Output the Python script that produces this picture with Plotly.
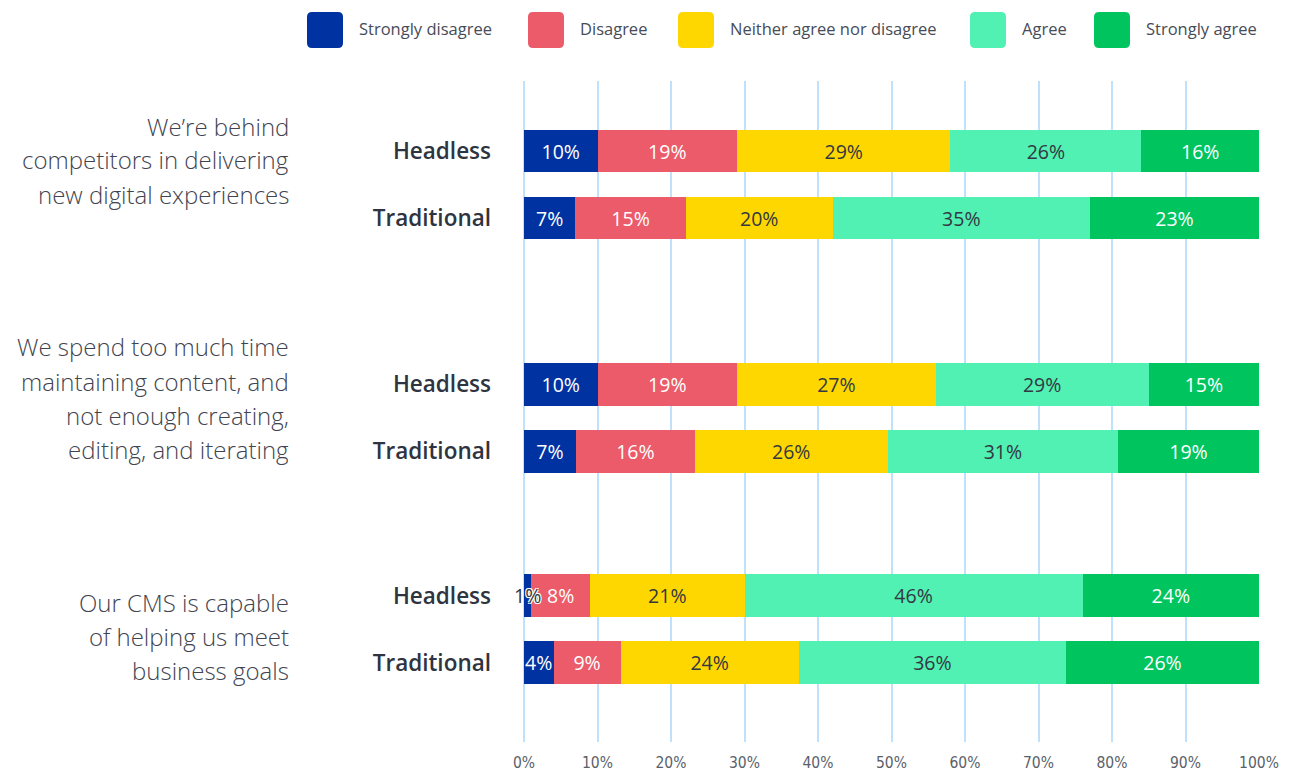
import plotly.graph_objects as go

# ---- data -----------------------------------------------------------------
STATEMENTS = [
    ["We\u2019re behind", "competitors in delivering", "new digital experiences"],
    ["We spend too much time", "maintaining content, and", "not enough creating,", "editing, and iterating"],
    ["Our CMS is capable", "of helping us meet", "business goals"],
]
CMS_TYPES = ["Headless", "Traditional"]
RESPONSES = ["Strongly disagree", "Disagree", "Neither agree nor disagree", "Agree", "Strongly agree"]

# one value per row: (statement 1: headless, traditional), (statement 2 ...), (statement 3 ...)
strongly_disagree = [10, 7, 10, 7, 1, 4]
disagree = [19, 15, 19, 16, 8, 9]
neither = [29, 20, 27, 26, 21, 24]
agree = [26, 35, 29, 31, 46, 36]
strongly_agree = [16, 23, 15, 19, 24, 26]

SERIES = [strongly_disagree, disagree, neither, agree, strongly_agree]
X_TICKS = [0, 10, 20, 30, 40, 50, 60, 70, 80, 90, 100]

# ---- style ----------------------------------------------------------------
COLORS = ["#0033A1", "#EB5B6A", "#FFD700", "#50F1B3", "#00C55E"]
TEXT_COLORS = ["#FFFFFF", "#FFFFFF", "#333842", "#333842", "#FFFFFF"]
FONT = "'Open Sans', Lato, sans-serif"
NARROW = "'Liberation Sans Narrow', 'DejaVu Sans Condensed', 'Roboto Condensed', Lato, sans-serif"
GRID = "#BFE1FB"
BAR_TEXT_SIZE = 19.5
MIN_INSIDE = 5   # narrower segments (in %) get a free-standing label, not shrunk to fit
MIN_ON_BAR = 3   # below this the label mostly sits off the segment: dark, outlined
OUTLINE = "1px 1px 0 #fff, -1px -1px 0 #fff, 1px -1px 0 #fff, -1px 1px 0 #fff"

W, H = 1291, 772
M_L, M_R, M_T, M_B = 524, 32, 81, 30
PLOT_W = W - M_L - M_R
PLOT_H = H - M_T - M_B

# vertical layout: each statement block holds two rows; blocks are spaced unevenly
GROUP_START = [0.0, 3.48, 6.64]
Y_RANGE = [8.82, -1.045]
BAR_WIDTH = 0.64


def px_x(px):
    return (px - M_L) / PLOT_W


def px_y(py):
    return (H - M_B - py) / PLOT_H


row_pos = []
row_names = []
for g, start in enumerate(GROUP_START):
    for i, name in enumerate(CMS_TYPES):
        row_pos.append(start + i)
        row_names.append(name)

row_totals = [sum(col) for col in zip(*SERIES)]

fig = go.Figure()
annotations = []
running = [0.0] * len(row_pos)
for k, (resp, vals) in enumerate(zip(RESPONSES, SERIES)):
    fits = [v >= MIN_INSIDE for v in vals]
    fig.add_trace(go.Bar(
        x=vals,
        y=row_pos,
        orientation="h",
        name=resp,
        width=BAR_WIDTH,
        marker=dict(color=COLORS[k], line=dict(width=0)),
        text=[f"{v}%" for v in vals],
        textposition=["inside" if f else "none" for f in fits],
        insidetextanchor="middle",
        textangle=0,
        textfont=dict(family=FONT, size=BAR_TEXT_SIZE, color=TEXT_COLORS[k]),
        hovertemplate="%{text}<extra>" + resp + "</extra>",
        showlegend=False,
    ))
    # labels of thin segments keep full size and spill over the segment edges
    for j, (v, f) in enumerate(zip(vals, fits)):
        share = 100.0 * v / row_totals[j]
        if not f:
            on_bar = v >= MIN_ON_BAR
            annotations.append(dict(
                text=f"{v}%", xref="x", yref="y",
                x=running[j] + share / 2, y=row_pos[j],
                xanchor="center", yanchor="middle", showarrow=False,
                font=dict(family=FONT, size=BAR_TEXT_SIZE,
                          color=TEXT_COLORS[k] if on_bar else "#333842",
                          shadow="none" if on_bar else OUTLINE),
            ))
        running[j] += share

# legend: rounded swatches + labels across the top
LEGEND_SWATCH_X = [307, 528, 678, 970, 1094]
LEGEND_Y = 30
SW = 18
R = 5
swatch_path = (f"M {-SW + R},{-SW} L {SW - R},{-SW} Q {SW},{-SW} {SW},{-SW + R} "
               f"L {SW},{SW - R} Q {SW},{SW} {SW - R},{SW} L {-SW + R},{SW} "
               f"Q {-SW},{SW} {-SW},{SW - R} L {-SW},{-SW + R} Q {-SW},{-SW} {-SW + R},{-SW} Z")
shapes = []
for k, resp in enumerate(RESPONSES):
    sx = LEGEND_SWATCH_X[k]
    shapes.append(dict(
        type="path", xref="paper", yref="paper",
        xsizemode="pixel", ysizemode="pixel",
        xanchor=px_x(sx + SW), yanchor=px_y(LEGEND_Y),
        path=swatch_path, fillcolor=COLORS[k], line=dict(width=0),
        layer="above",
    ))
    annotations.append(dict(
        text=resp, xref="paper", yref="paper",
        x=px_x(sx + 2 * SW + 14), y=px_y(LEGEND_Y - 2),
        xanchor="left", yanchor="middle", showarrow=False,
        font=dict(family=FONT, size=16.5, color="#474C57"),
    ))

# statement labels, one annotation per line for generous line spacing
STATEMENT_LINE_Y = [
    [126, 160, 194],
    [346, 381, 415, 449],
    [602, 636, 670],
]
for lines, ys in zip(STATEMENTS, STATEMENT_LINE_Y):
    for line, py in zip(lines, ys):
        annotations.append(dict(
            text=line, xref="paper", yref="paper",
            x=px_x(291), y=px_y(py),
            xanchor="right", yanchor="middle", showarrow=False,
            font=dict(family=FONT, size=24, color="#3F4450", weight=300),
        ))

fig.update_layout(
    width=W, height=H,
    margin=dict(l=M_L, r=M_R, t=M_T, b=M_B, pad=0, autoexpand=False),
    barmode="stack",
    barnorm="percent",
    plot_bgcolor="white",
    paper_bgcolor="white",
    shapes=shapes,
    annotations=annotations,
    xaxis=dict(
        range=[0, 100],
        tickvals=X_TICKS,
        ticktext=[f"{t}%" for t in X_TICKS],
        showgrid=True, gridcolor=GRID, gridwidth=1.5,
        zeroline=True, zerolinecolor=GRID, zerolinewidth=1.5,
        showline=False, ticks="",
        ticklabelstandoff=9,
        tickfont=dict(family=NARROW, size=15.5, color="#5A5F6A"),
        automargin=False,
        fixedrange=True,
    ),
    yaxis=dict(
        range=Y_RANGE,
        tickvals=row_pos,
        ticktext=row_names,
        showgrid=False, zeroline=False, showline=False, ticks="",
        ticklabelstandoff=32,
        tickfont=dict(family=FONT, size=22.5, color="#2E3440", weight=600),
        automargin=False,
        fixedrange=True,
    ),
)

fig.write_html("out.html")
